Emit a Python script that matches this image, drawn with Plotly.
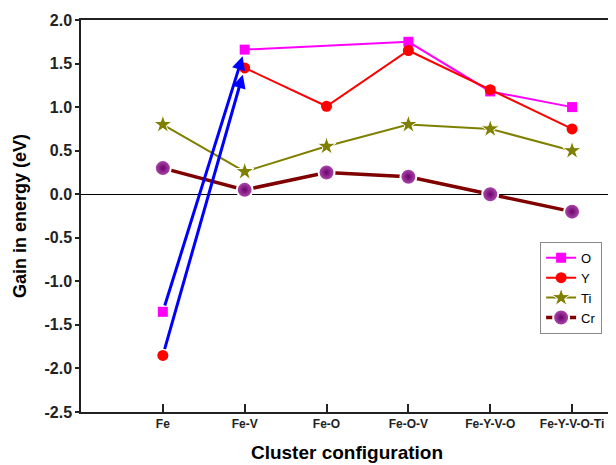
import plotly.graph_objects as go

categories = ["Fe", "Fe-V", "Fe-O", "Fe-O-V", "Fe-Y-V-O", "Fe-Y-V-O-Ti"]
o_vals = [-1.35, 1.66, None, 1.75, 1.18, 1.00]
y_vals = [-1.85, 1.45, 1.01, 1.65, 1.20, 0.75]
ti_vals = [0.80, 0.26, 0.55, 0.80, 0.75, 0.50]
cr_vals = [0.30, 0.05, 0.25, 0.20, 0.00, -0.20]

y_tickvals = [2.0, 1.5, 1.0, 0.5, 0.0, -0.5, -1.0, -1.5, -2.0, -2.5]
y_ticktext = ["2.0", "1.5", "1.0", "0.5", "0.0", "-0.5", "-1.0", "-1.5", "-2.0", "-2.5"]

xs = list(range(len(categories)))
FONT = "Arial, Liberation Sans, sans-serif"

fig = go.Figure()

# O series: Fe point is isolated (blue arrow replaces the link)
fig.add_trace(go.Scatter(x=xs[1:], y=o_vals[1:], mode="lines+markers", name="O",
                         connectgaps=True,
                         line=dict(color="#FF00FF", width=2),
                         marker=dict(symbol="square", size=10, color="#FF00FF")))
fig.add_trace(go.Scatter(x=xs[:1], y=o_vals[:1], mode="markers", showlegend=False,
                         marker=dict(symbol="square", size=10, color="#FF00FF")))

# Y series
fig.add_trace(go.Scatter(x=xs[1:], y=y_vals[1:], mode="lines+markers", name="Y",
                         line=dict(color="#FF0000", width=2),
                         marker=dict(symbol="circle", size=11, color="#FF0000")))
fig.add_trace(go.Scatter(x=xs[:1], y=y_vals[:1], mode="markers", showlegend=False,
                         marker=dict(symbol="circle", size=11, color="#FF0000")))

# Ti series
fig.add_trace(go.Scatter(x=xs, y=ti_vals, mode="lines+markers", name="Ti",
                         line=dict(color="#808000", width=2),
                         marker=dict(symbol="star", size=14, color="#808000",
                                     line=dict(color="white", width=1))))

# Cr series
fig.add_trace(go.Scatter(x=xs, y=cr_vals, mode="lines+markers", name="Cr",
                         line=dict(color="#800000", width=3.5),
                         marker=dict(symbol="circle", size=16, color="#B050B0",
                                     gradient=dict(type="radial", color="#6E006E"),
                                     line=dict(color="white", width=2))))

# Blue arrows from Fe to Fe-V for O and Y
for vals in (o_vals, y_vals):
    fig.add_annotation(x=xs[1], y=vals[1], ax=xs[0], ay=vals[0],
                       xref="x", yref="y", axref="x", ayref="y",
                       showarrow=True, arrowhead=2, arrowsize=0.9,
                       arrowwidth=3, arrowcolor="#0000FF",
                       standoff=7, startstandoff=5, text="")

fig.update_layout(
    width=608, height=457,
    margin=dict(l=73, r=1, t=12, b=53),
    paper_bgcolor="white", plot_bgcolor="white",
    font=dict(family=FONT, color="black"),
    legend=dict(x=0.863, y=0.434, xanchor="left", yanchor="top",
                bordercolor="#888888", borderwidth=1, bgcolor="white",
                font=dict(size=13, family=FONT), itemwidth=30,
                tracegroupgap=0),
    showlegend=True,
)

fig.update_xaxes(
    range=[-1, 5.5],
    tickmode="array", tickvals=xs, ticktext=["<b>%s</b>" % c for c in categories],
    ticks="inside", ticklen=8, tickwidth=1.5, tickcolor="#222",
    showline=True, linecolor="#222", linewidth=1.5, mirror=True,
    showgrid=False, zeroline=False,
    tickfont=dict(size=12, family=FONT, color="#222"),
    title=dict(text="<b>Cluster configuration</b>", font=dict(size=19, family=FONT), standoff=16),
)
fig.update_yaxes(
    range=[-2.5, 2.0],
    tickmode="array", tickvals=y_tickvals, ticktext=["<b>%s</b>" % t for t in y_ticktext],
    ticks="outside", ticklen=4, tickwidth=1.5, tickcolor="#222",
    showline=True, linecolor="#222", linewidth=1.5, mirror=True,
    showgrid=False,
    zeroline=True, zerolinecolor="black", zerolinewidth=1,
    tickfont=dict(size=16, family=FONT, color="#222"),
    title=dict(text="<b>Gain in energy (eV)</b>", font=dict(size=18, family=FONT), standoff=13),
)

fig.write_html("out.html")
